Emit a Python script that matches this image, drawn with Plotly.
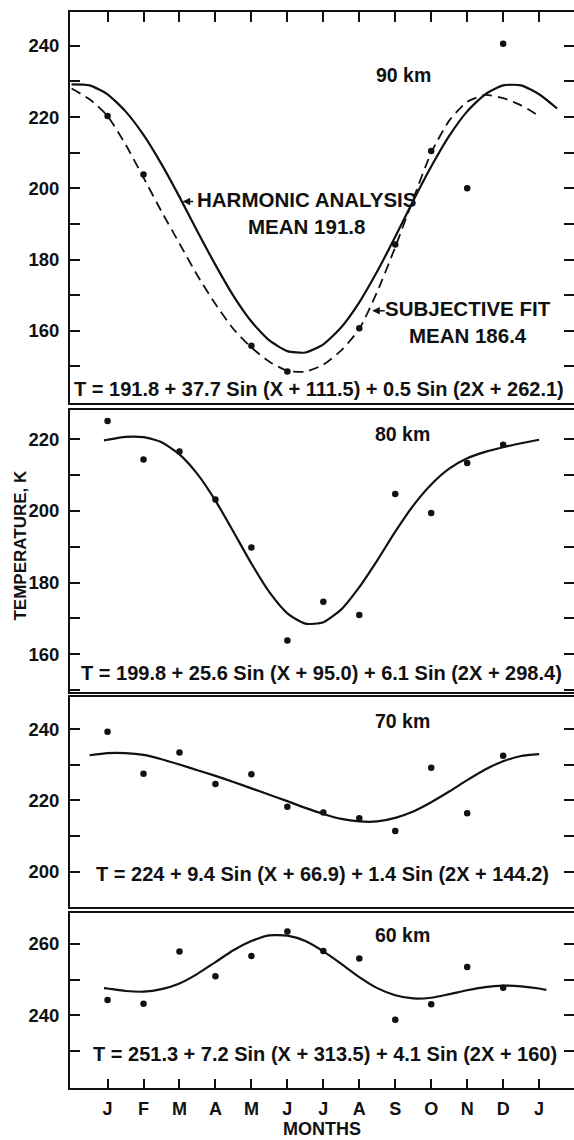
import plotly.graph_objects as go

# ---------------- data ----------------
month_ticks = list(range(13))
month_labels = ["J", "F", "M", "A", "M", "J", "J", "A", "S", "O", "N", "D", "J"]

# 90 km
obs90_m = [0, 1, 4, 5, 7, 8, 9, 10, 11]
obs90_t = [220.3, 203.9, 155.8, 148.6, 160.7, 184.2, 210.5, 200.0, 240.6]
harm90_m = [-1, -0.5, 0, 0.5, 1, 1.5, 2, 2.5, 3, 3.5, 4, 4.5, 5, 5.5, 6, 6.5,
            7, 7.5, 8, 8.5, 9, 9.5, 10, 10.5, 11, 11.5, 12, 12.5]
harm90_t = [229.2, 228.9, 226.4, 221.6, 215.0, 206.8, 197.6, 187.9, 178.5, 169.8,
            162.6, 157.3, 154.3, 153.9, 156.2, 161.0, 168.0, 176.7, 186.4, 196.5,
            206.1, 214.7, 221.6, 226.4, 228.9, 228.9, 226.4, 222.4]
subj90_m = [-1, -0.5, 0, 0.5, 1, 1.5, 2, 2.5, 3, 3.5, 4, 4.5, 5, 5.5, 6, 6.5,
            7, 7.5, 8, 8.5, 9, 9.5, 10, 10.5, 11, 11.5, 12]
subj90_t = [228.0, 225.0, 220.3, 212.3, 203.0, 193.5, 184.5, 175.5, 167.5, 160.5,
            155.3, 151.3, 148.8, 148.5, 150.5, 154.5, 160.5, 171.0, 183.5, 197.0,
            210.0, 219.0, 224.3, 226.2, 225.3, 223.3, 220.3]

# 80 km
obs80_m = list(range(12))
obs80_t = [225.1, 214.4, 216.6, 203.2, 189.8, 163.8, 174.6, 170.9, 204.7, 199.4, 213.4, 218.5]
fit80_m = [-0.1, 0, 0.5, 1, 1.5, 2, 2.5, 3, 3.5, 4, 4.5, 5, 5.5, 6, 6.5,
           7, 7.5, 8, 8.5, 9, 9.5, 10, 10.5, 11, 11.5, 12]
fit80_t = [219.7, 219.9, 220.7, 220.6, 219.2, 215.8, 210.3, 202.9, 194.2, 185.3,
           177.3, 171.4, 168.5, 168.9, 172.5, 178.7, 186.2, 194.2, 201.5, 207.4,
           211.8, 214.7, 216.5, 217.8, 218.9, 219.9]

# 70 km
obs70_m = list(range(12))
obs70_t = [239.3, 227.5, 233.5, 224.6, 227.4, 218.2, 216.6, 215.0, 211.4, 229.2, 216.4, 232.6]
fit70_m = [-0.5, 0, 0.5, 1, 1.5, 2, 2.5, 3, 3.5, 4, 4.5, 5, 5.5, 6, 6.5,
           7, 7.5, 8, 8.5, 9, 9.5, 10, 10.5, 11, 11.5, 12]
fit70_t = [232.7, 233.3, 233.3, 232.8, 231.6, 230.1, 228.5, 226.9, 225.2, 223.4,
           221.6, 219.8, 217.9, 216.2, 214.8, 214.1, 214.1, 215.1, 216.9, 219.5,
           222.5, 225.7, 228.7, 231.0, 232.5, 233.0]

# 60 km
obs60_m = list(range(12))
obs60_t = [244.3, 243.2, 257.9, 250.9, 256.6, 263.5, 258.0, 255.9, 238.7, 243.1, 253.5, 247.7]
fit60_m = [-0.1, 0, 0.5, 1, 1.5, 2, 2.5, 3, 3.5, 4, 4.5, 5, 5.5, 6, 6.5,
           7, 7.5, 8, 8.5, 9, 9.5, 10, 10.5, 11, 11.5, 12, 12.2]
fit60_t = [247.6, 247.5, 246.8, 246.6, 247.3, 248.9, 251.6, 254.9, 258.2, 260.8,
           262.4, 262.3, 260.8, 257.9, 254.4, 250.7, 247.6, 245.6, 244.7, 244.9,
           245.9, 247.0, 247.9, 248.3, 248.1, 247.5, 247.1]

# y ticks per panel
y90_ticks = [150, 160, 170, 180, 190, 200, 210, 220, 230, 240]
y80_ticks = [150, 160, 170, 180, 190, 200, 210, 220]
y70_ticks = [190, 200, 210, 220, 230, 240]
y60_ticks = [230, 240, 250, 260]

equations = [
    "T = 191.8 + 37.7 Sin (X + 111.5) + 0.5 Sin (2X + 262.1)",
    "T = 199.8 + 25.6 Sin (X + 95.0) + 6.1 Sin (2X + 298.4)",
    "T = 224 + 9.4 Sin (X + 66.9) + 1.4 Sin (2X + 144.2)",
    "T = 251.3 + 7.2 Sin (X + 313.5) + 4.1 Sin (2X + 160)",
]
heights = ["90 km", "80 km", "70 km", "60 km"]

# ---------------- styling / layout ----------------
FONT = "Liberation Sans, Arial, Helvetica, sans-serif"
BLACK = "#111111"
XR = [-1.044, 12.97]
y_ranges = [[139.6, 249.5], [149.4, 228.2], [189.9, 249.1], [219.6, 268.8]]
y_domains = [[0.6362, 1.0], [0.3680, 0.6301], [0.1678, 0.3634], [0.0, 0.1631]]
y_tick_sets = [y90_ticks, y80_ticks, y70_ticks, y60_ticks]

fig = go.Figure()

line_style = dict(color=BLACK, width=2.2, shape="spline", smoothing=0.6)
mk = dict(color=BLACK, size=6.5)

fig.add_trace(go.Scatter(x=harm90_m, y=harm90_t, mode="lines", line=line_style,
                         xaxis="x", yaxis="y", showlegend=False))
fig.add_trace(go.Scatter(x=subj90_m, y=subj90_t, mode="lines",
                         line=dict(color=BLACK, width=1.8, dash="10px,6px", shape="spline", smoothing=0.6),
                         xaxis="x", yaxis="y", showlegend=False))
fig.add_trace(go.Scatter(x=obs90_m, y=obs90_t, mode="markers", marker=mk,
                         xaxis="x", yaxis="y", showlegend=False))

for i, (fm, ft, om, ot) in enumerate([(fit80_m, fit80_t, obs80_m, obs80_t),
                                      (fit70_m, fit70_t, obs70_m, obs70_t),
                                      (fit60_m, fit60_t, obs60_m, obs60_t)], start=2):
    fig.add_trace(go.Scatter(x=fm, y=ft, mode="lines", line=line_style,
                             xaxis=f"x{i}", yaxis=f"y{i}", showlegend=False))
    fig.add_trace(go.Scatter(x=om, y=ot, mode="markers", marker=mk,
                             xaxis=f"x{i}", yaxis=f"y{i}", showlegend=False))

layout = dict(
    width=576, height=1140,
    margin=dict(l=70, r=0, t=12, b=52),
    paper_bgcolor="white", plot_bgcolor="white",
    font=dict(family=FONT, color=BLACK, size=18, weight="bold"),
    showlegend=False,
)

for i in range(1, 5):
    xk = "xaxis" if i == 1 else f"xaxis{i}"
    yk = "yaxis" if i == 1 else f"yaxis{i}"
    xa = dict(domain=[0, 1], range=XR, anchor="y" if i == 1 else f"y{i}",
              showline=True, linecolor=BLACK, linewidth=2, mirror=True,
              showgrid=False, zeroline=False, tickvals=month_ticks,
              ticktext=month_labels, fixedrange=True)
    if i == 1:
        xa.update(side="top", ticks="inside", ticklen=10, tickwidth=1.8,
                  tickcolor=BLACK, showticklabels=False)
    elif i == 4:
        xa.update(ticks="inside", ticklen=9, tickwidth=1.8, tickcolor=BLACK,
                  showticklabels=True, ticklabelstandoff=3,
                  tickfont=dict(family=FONT, size=18, color=BLACK, weight="bold"))
    else:
        xa.update(ticks="", showticklabels=False)
    if i > 1:
        xa["matches"] = "x"
    ticks = y_tick_sets[i - 1]
    ya = dict(domain=y_domains[i - 1], range=y_ranges[i - 1],
              anchor="x" if i == 1 else f"x{i}",
              showline=True, linecolor=BLACK, linewidth=2, mirror="ticks",
              showgrid=False, zeroline=False,
              tickvals=ticks,
              ticktext=[str(t) if t % 20 == 0 else "" for t in ticks],
              ticks="inside", ticklen=10, tickwidth=1.8, tickcolor=BLACK,
              ticklabelstandoff=5,
              tickfont=dict(family=FONT, size=18.5, color=BLACK, weight="bold"),
              fixedrange=True)
    layout[xk] = xa
    layout[yk] = ya

fig.update_layout(**layout)

ann_font = dict(family=FONT, size=20.5, color=BLACK, weight="bold")
km_font = dict(family=FONT, size=19.5, color=BLACK, weight="bold")
eq_font = dict(family=FONT, size=20, color=BLACK, weight="bold")

eq_pos = [(5.87, 143.6), (5.96, 154.6), (5.99, 199.2), (6.05, 229.1)]
km_pos = [(8.23, 231.8), (8.19, 221.6), (8.2, 242.4), (8.2, 262.5)]
annotations = []
for i in range(4):
    xr = "x" if i == 0 else f"x{i+1}"
    yr = "y" if i == 0 else f"y{i+1}"
    annotations.append(dict(x=eq_pos[i][0], y=eq_pos[i][1], xref=xr, yref=yr,
                            text=equations[i], showarrow=False, font=eq_font,
                            xanchor="center", yanchor="middle", borderpad=0))
    annotations.append(dict(x=km_pos[i][0], y=km_pos[i][1], xref=xr, yref=yr,
                            text=heights[i], showarrow=False, font=km_font,
                            xanchor="center", yanchor="middle", borderpad=0))

# curve labels in the 90 km panel
annotations += [
    dict(x=5.52, y=193.2, xref="x", yref="y", text="HARMONIC ANALYSIS<br>MEAN 191.8",
         showarrow=False, font=ann_font, xanchor="center", yanchor="middle",
         align="center", borderpad=0),
    dict(x=2.09, y=196.3, xref="x", yref="y", text="", showarrow=True,
         ax=12, ay=0, arrowhead=2, arrowsize=1, arrowwidth=1.5, arrowcolor=BLACK),
    dict(x=10.03, y=162.6, xref="x", yref="y", text="SUBJECTIVE FIT<br>MEAN 186.4",
         showarrow=False, font=ann_font, xanchor="center", yanchor="middle",
         align="center", borderpad=0),
    dict(x=7.36, y=165.6, xref="x", yref="y", text="", showarrow=True,
         ax=14, ay=0, arrowhead=2, arrowsize=1, arrowwidth=1.5, arrowcolor=BLACK),
    # axis titles
    dict(x=-0.0982, y=0.5046, xref="paper", yref="paper", text="TEMPERATURE, K",
         textangle=-90, showarrow=False,
         font=dict(family=FONT, size=17, color=BLACK, weight="bold"),
         xanchor="center", yanchor="middle", borderpad=0),
    dict(x=0.5, y=-0.0381, xref="paper", yref="paper", text="MONTHS",
         showarrow=False, font=dict(family=FONT, size=18, color=BLACK, weight="bold"),
         xanchor="center", yanchor="middle", borderpad=0),
]
fig.update_layout(annotations=annotations)

fig.write_html("out.html", config={"displayModeBar": False},
               post_script="document.body.style.margin='0px';")
